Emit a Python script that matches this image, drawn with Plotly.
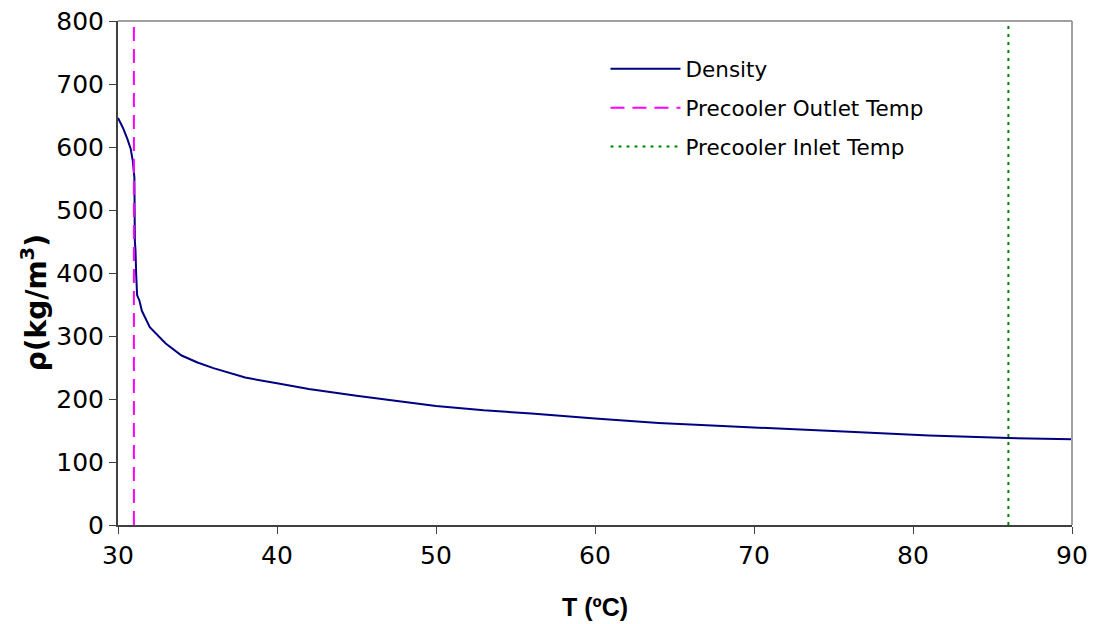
import plotly.graph_objects as go

T = [30.0, 30.3, 30.6, 30.8, 30.93, 31.03, 31.06, 31.1, 31.14, 31.16, 31.2, 31.35, 31.5, 32.0,
     33.0, 34.0, 35.0, 36.0, 37.0, 38.0, 40.0, 42.0, 45.0, 48.0, 50.0, 53.0, 56.0, 60.0,
     64.0, 68.0, 72.0, 76.0, 81.0, 86.0, 90.0]
rho = [646, 631, 612, 597, 578, 552, 451, 436, 400, 372, 365, 356, 340, 314,
       288, 269, 258, 249, 241, 234, 225, 216, 205, 195, 189, 182, 177, 169,
       162, 157, 153, 148, 142, 138, 136]

outlet_T = 31.0
inlet_T = 86.0
y_range = [0, 800]
x_ticks = [30, 40, 50, 60, 70, 80, 90]
y_ticks = [0, 100, 200, 300, 400, 500, 600, 700, 800]

tick_font = "DejaVu Sans, sans-serif"
arial = "Liberation Sans, Arial, sans-serif"

fig = go.Figure()
fig.add_trace(go.Scatter(x=T, y=rho, mode="lines", name="Density", legendgroup="a",
                         line=dict(color="#000080", width=2)))
fig.add_trace(go.Scatter(x=[outlet_T, outlet_T], y=y_range, mode="lines",
                         name="Precooler Outlet Temp", legendgroup="b",
                         line=dict(color="#FF00FF", width=2, dash="14px,8px")))
fig.add_trace(go.Scatter(x=[inlet_T, inlet_T], y=y_range, mode="lines",
                         name="Precooler Inlet Temp", legendgroup="c",
                         line=dict(color="#008000", width=2, dash="3px,5px")))

axis_common = dict(showgrid=False, zeroline=False, showline=True, linecolor="#404040",
                   linewidth=2, ticks="outside", ticklen=7, tickcolor="#404040",
                   tickwidth=1, automargin=False,
                   tickfont=dict(size=25, family=tick_font, color="black"))

fig.update_layout(
    width=1094, height=624,
    margin=dict(l=118, r=22, t=21, b=99),
    paper_bgcolor="white", plot_bgcolor="white",
    font=dict(family=tick_font, size=21, color="black"),
    showlegend=True,
    legend=dict(x=0.511, y=0.946, xanchor="left", yanchor="top",
                bgcolor="rgba(0,0,0,0)", font=dict(size=21.5, family=tick_font),
                tracegroupgap=8, itemwidth=70),
    xaxis=dict(range=[30, 90], tickvals=x_ticks, **axis_common),
    yaxis=dict(range=y_range, tickvals=y_ticks, **axis_common),
)
# axis titles
fig.add_annotation(text="<b>T (ºC)</b>", xref="paper", yref="paper", x=0.5, y=-0.163,
                   xanchor="center", yanchor="middle", showarrow=False,
                   font=dict(size=25, family=arial, color="black"))
fig.add_annotation(text="<b>ρ(kg/m<sup>3</sup>)</b>", xref="paper", yref="paper",
                   x=-0.088, y=0.44, xanchor="center", yanchor="middle", textangle=-90,
                   showarrow=False, font=dict(size=28, family=tick_font, color="black"))
# light frame on top and right
fig.add_shape(type="line", xref="paper", yref="paper", x0=0, x1=1, y0=1, y1=1,
              line=dict(color="#a0a0a0", width=2))
fig.add_shape(type="line", xref="paper", yref="paper", x0=1, x1=1, y0=0, y1=1,
              line=dict(color="#a0a0a0", width=2))

fig.write_html("out.html")
